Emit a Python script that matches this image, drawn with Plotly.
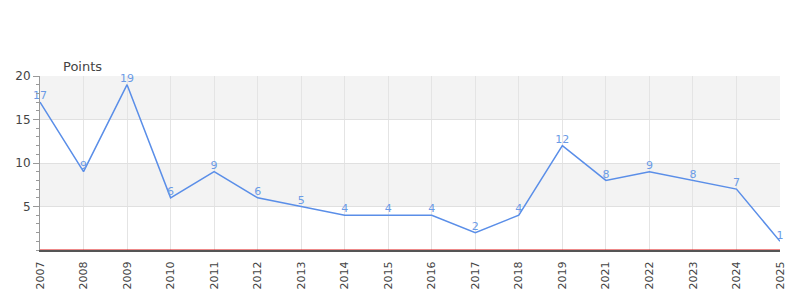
import plotly.graph_objects as go

years = ["2007", "2008", "2009", "2010", "2011", "2012", "2013", "2014", "2015",
         "2016", "2017", "2018", "2019", "2021", "2022", "2023", "2024", "2025"]
points = [17, 9, 19, 6, 9, 6, 5, 4, 4, 4, 2, 4, 12, 8, 9, 8, 7, 1]
y_ticks = [5, 10, 15, 20]
bands = [(5, 10), (15, 20)]

fig = go.Figure()
fig.add_trace(go.Scatter(
    x=years, y=points, mode="lines+text",
    text=[str(v) for v in points], textposition="top center",
    textfont=dict(family="DejaVu Sans", size=11, color="#6b9be6"),
    line=dict(color="#5a8ee8", width=1.5),
    cliponaxis=False, hoverinfo="x+y",
))

shapes = []
for lo, hi in bands:
    shapes.append(dict(type="rect", xref="paper", yref="y", x0=0, x1=1, y0=lo, y1=hi,
                       fillcolor="#f3f3f3", line=dict(width=0), layer="below"))
shapes.append(dict(type="line", xref="paper", yref="y", x0=0, x1=1, y0=0, y1=0,
                   line=dict(color="#dd1111", width=1), layer="above"))

fig.update_layout(
    width=800, height=300,
    margin=dict(l=40, r=20, t=76, b=50),
    paper_bgcolor="white", plot_bgcolor="white",
    showlegend=False,
    font=dict(family="DejaVu Sans", size=11, color="#444"),
    shapes=shapes,
    annotations=[dict(text="Points", xref="paper", yref="paper", x=0.0, y=1.0,
                      xanchor="left", yanchor="bottom", xshift=21, yshift=0,
                      showarrow=False, font=dict(family="DejaVu Sans", size=13, color="#444"))],
    xaxis=dict(type="category", range=[0, len(years) - 1], tickangle=-90,
               showgrid=True, gridcolor="#e4e4e4", gridwidth=1,
               showline=True, linecolor="#555", linewidth=2,
               ticks="outside", ticklen=5, tickcolor="rgba(0,0,0,0)",
               tickfont=dict(size=11, color="#444"), zeroline=False),
    yaxis=dict(range=[0, 20], tickvals=y_ticks, showgrid=True, gridcolor="#e0e0e0",
               showline=True, linecolor="#999", linewidth=1,
               ticks="outside", ticklen=6, tickcolor="#999",
               minor=dict(dtick=1, ticks="outside", ticklen=3, tickcolor="#999", showgrid=False),
               tickfont=dict(size=12, color="#444"), zeroline=False),
)

fig.write_html("out.html")
